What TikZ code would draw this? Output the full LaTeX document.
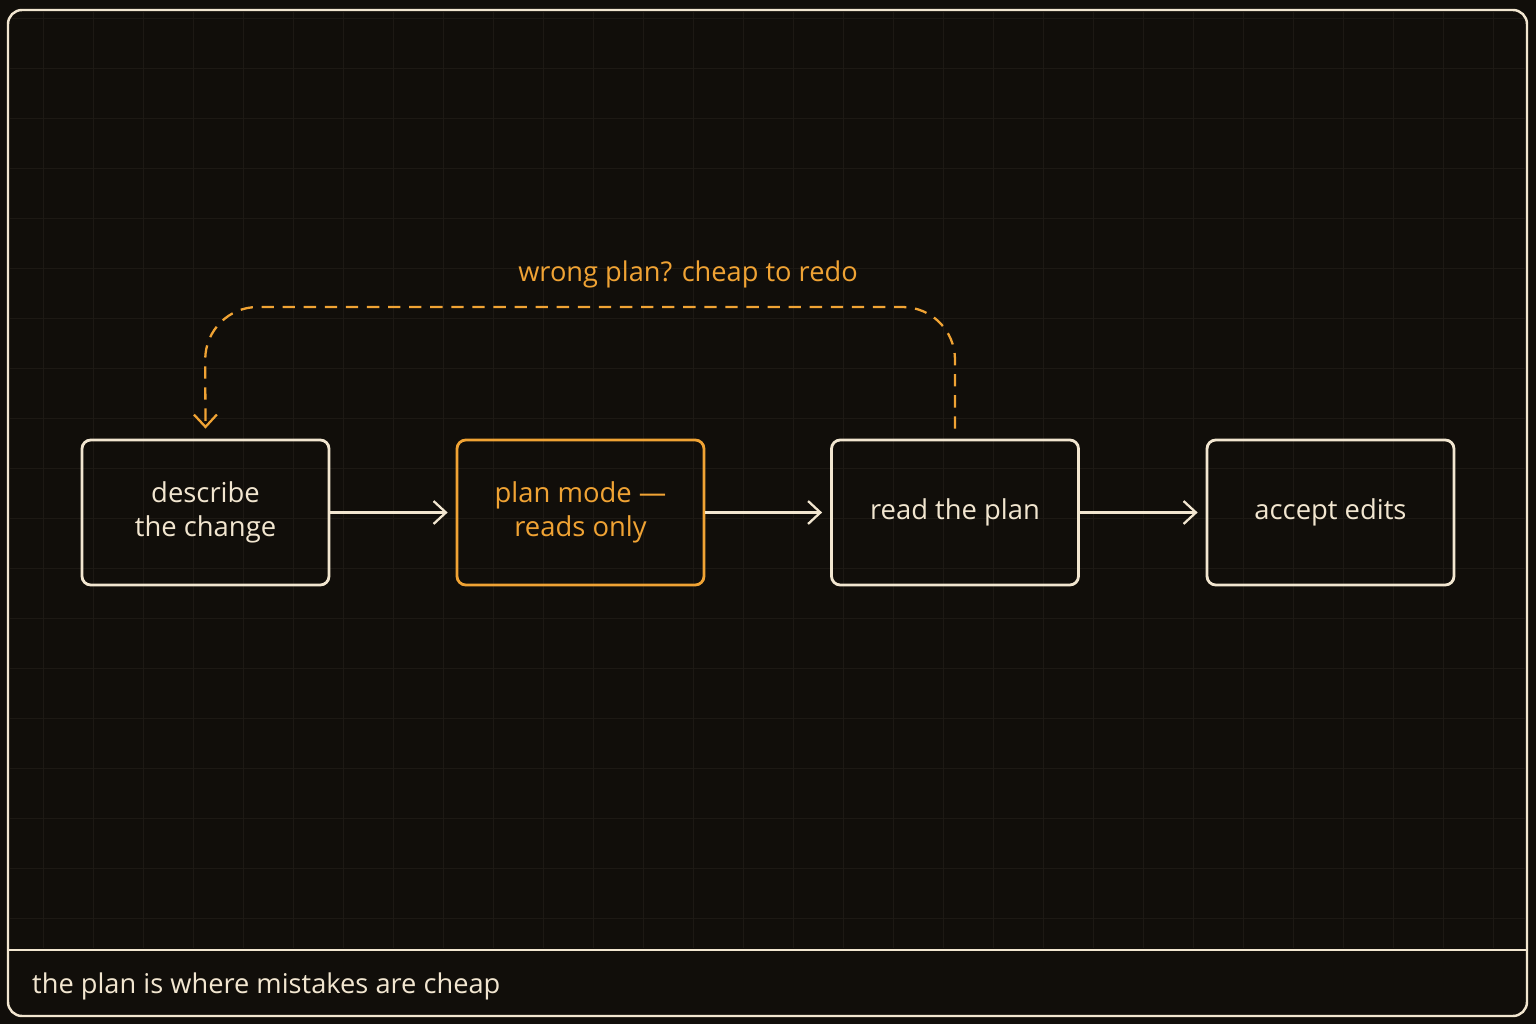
\documentclass[tikz,border=0pt]{standalone}
\usepackage{fontspec}
\setmainfont{Open Sans}
\usetikzlibrary{arrows.meta, positioning}
\definecolor{bgdark}{HTML}{110E0A}
\definecolor{cream}{HTML}{F2E6D0}
\definecolor{amber}{HTML}{F0A334}
\definecolor{gridc}{HTML}{1D1914}
\tikzset{
  step box/.style={draw=cream, line width=1.6pt, rounded corners=5pt, minimum width=247*0.02cm, minimum height=145*0.02cm, align=center, text=cream, font=\fontsize{15.6}{19}\selectfont},
  flow/.style={draw=cream, line width=1.3pt, -{Straight Barb[length=7pt,width=13pt,line width=1.3pt]}},
}
\begin{document}
\begin{tikzpicture}[x=0.02cm, y=-0.02cm]
    \fill[bgdark] (0,0) rectangle (1536,1024);
    \useasboundingbox (0,0) rectangle (1536,1024);
    \foreach \x in {43,93,...,1493} {
      \draw[gridc, line width=0.4pt] (\x,12) -- (\x,948);
    }
    \foreach \y in {18,68,...,918} {
      \draw[gridc, line width=0.4pt] (10,\y) -- (1525,\y);
    }
    \draw[cream, line width=1.4pt, rounded corners=8pt] (8,10) rectangle (1527,1016);
    \draw[cream, line width=1.4pt] (8,950) -- (1527,950);
    \node[anchor=west, text=cream, font=\fontsize{15.5}{18}\selectfont] (caption) at (26,986) {the plan is where mistakes are cheap};
    % steps
    \node[step box] (describe) at (205.5,512.5) {describe\\the change};
    \node[step box, draw=amber, text=amber] (planmode) at (580.5,512.5) {plan mode —\\reads only};
    \node[step box] (readplan) at (955,512.5) {read the plan};
    \node[step box] (accept) at (1330.5,512.5) {accept edits};
    \draw[flow] (describe) -- ([xshift=-8*0.02cm]planmode.west);
    \draw[flow] (planmode) -- ([xshift=-8*0.02cm]readplan.west);
    \draw[flow] (readplan) -- ([xshift=-8*0.02cm]accept.west);
    % loop back
    \coordinate (loopstart) at ([yshift=10*0.02cm]readplan.north);
    \coordinate (loopend) at ([yshift=10*0.02cm]describe.north);
    \draw[amber, line width=1.3pt, dash pattern=on 7pt off 5pt, rounded corners=30pt, -{Straight Barb[length=7pt,width=13pt,line width=1.3pt]}]
      (loopstart) -- (955,307) -- (205,307) -- (loopend);
    \node[text=amber, font=\fontsize{15.5}{18}\selectfont] (redo) at (688,274) {wrong plan? cheap to redo};
\end{tikzpicture}
\end{document}
